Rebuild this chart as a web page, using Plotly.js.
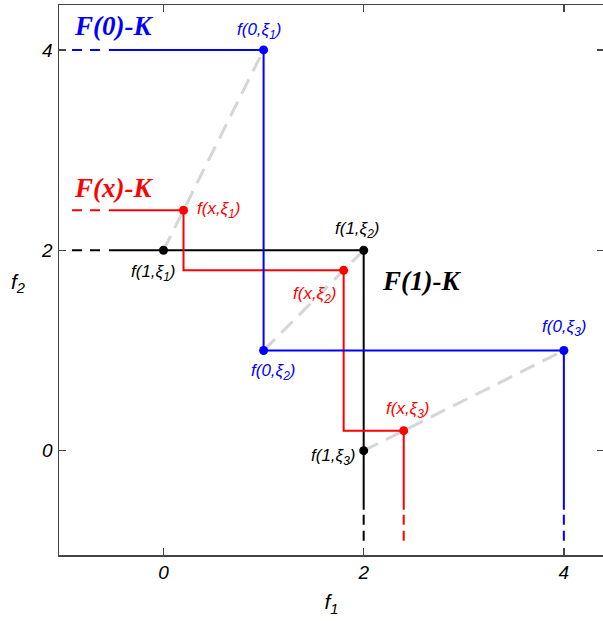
<!DOCTYPE html>
<html>
<head>
<meta charset="utf-8">
<script src="https://cdn.plot.ly/plotly-3.0.1.min.js"></script>
<style>html,body{margin:0;padding:0;overflow:hidden;background:#fff;}</style>
</head>
<body>
<div id="chart" style="width:606px;height:621px;"></div>
<script>
// Staircase data (solid parts)
const blueX = [-0.545, 1, 1, 4, 4];
const blueY = [4, 4, 1, 1, -0.59];
const redX = [-0.545, 0.2, 0.2, 1.8, 1.8, 2.4, 2.4];
const redY = [2.4, 2.4, 1.8, 1.8, 0.2, 0.2, -0.59];
const blackX = [-0.545, 0, 2, 2, 2];
const blackY = [2, 2, 2, 0, -0.59];
// dashed extensions
const dashLeftX = [-0.914, -0.614];
const dashBottomY = [-0.64, -0.91];
// points
const blueNames = ['f(0,ξ<sub>1</sub>)', 'f(0,ξ<sub>2</sub>)', 'f(0,ξ<sub>3</sub>)'];
const bluePtX = [1, 1, 4], bluePtY = [4, 1, 1];
const redNames = ['f(x,ξ<sub>1</sub>)', 'f(x,ξ<sub>2</sub>)', 'f(x,ξ<sub>3</sub>)'];
const redPtX = [0.2, 1.8, 2.4], redPtY = [2.4, 1.8, 0.2];
const blackNames = ['f(1,ξ<sub>1</sub>)', 'f(1,ξ<sub>2</sub>)', 'f(1,ξ<sub>3</sub>)'];
const blackPtX = [0, 2, 2], blackPtY = [2, 2, 0];
// gray connecting segments f(1,ξi) -> f(0,ξi)
const grayX = [0, 1, null, 1, 2, null, 2, 4];
const grayY = [2, 4, null, 1, 2, null, 0, 1];
// label positions
const blueLabX = [0.954, 1.094, 4.0], blueLabY = [4.19, 0.786, 1.225];
const redLabX = [0.315, 1.513, 2.442], redLabY = [2.40, 1.553, 0.406];
const blackLabX = [-0.105, 1.933, 1.933], blackLabY = [1.77, 2.20, -0.063];
const tickVals = [0, 2, 4];
const tickText = ['0', '2', '4'];

const BLUE = '#0000ff', RED = '#ff0000', BLACK = '#000000';
const SANS = 'Liberation Sans, Arial, Helvetica, sans-serif';
const SERIF = 'Liberation Serif, Times New Roman, serif';
const traces = [];
traces.push({x: grayX, y: grayY, mode: 'lines', line: {color: '#d6d6d6', width: 3, dash: '16px,9px'}, hoverinfo: 'skip'});
function stair(xs, ys, col, px, py, bottomX, leftY) {
  traces.push({x: xs, y: ys, mode: 'lines', line: {color: col, width: 2}, hoverinfo: 'skip'});
  traces.push({x: dashLeftX, y: [leftY, leftY], mode: 'lines', line: {color: col, width: 2, dash: '10px,8px'}, hoverinfo: 'skip'});
  traces.push({x: [bottomX, bottomX], y: dashBottomY, mode: 'lines', line: {color: col, width: 2, dash: '10px,6px'}, hoverinfo: 'skip'});
  traces.push({x: px, y: py, mode: 'markers', marker: {color: col, size: 9}, hoverinfo: 'skip'});
}
stair(blackX, blackY, BLACK, blackPtX, blackPtY, blackX[blackX.length-1], blackY[0]);
stair(redX, redY, RED, redPtX, redPtY, redX[redX.length-1], redY[0]);
stair(blueX, blueY, BLUE, bluePtX, bluePtY, blueX[blueX.length-1], blueY[0]);

const ann = [];
const small = (col) => ({family: SANS, size: 17, color: col, style: 'italic'});
const big = (col) => ({family: SERIF, size: 27, color: col, style: 'italic', weight: 'bold'});
function addLabels(names, xs, ys, col, anchors) {
  names.forEach((n, i) => ann.push({x: xs[i], y: ys[i], text: n, showarrow: false, font: small(col), xanchor: anchors[i], yanchor: 'middle'}));
}
addLabels(blueNames, blueLabX, blueLabY, BLUE, ['center', 'center', 'center']);
addLabels(redNames, redLabX, redLabY, RED, ['left', 'center', 'center']);
addLabels(blackNames, blackLabX, blackLabY, BLACK, ['center', 'center', 'right']);
ann.push({x: -0.914, y: 4.24, text: 'F(0)-K', showarrow: false, font: big(BLUE), xanchor: 'left', yanchor: 'middle'});
ann.push({x: -0.914, y: 2.62, text: 'F(x)-K', showarrow: false, font: big(RED), xanchor: 'left', yanchor: 'middle'});
ann.push({x: 2.163, y: 1.695, text: 'F(1)-K', showarrow: false, font: big(BLACK), xanchor: 'left', yanchor: 'middle'});
// y axis title (horizontal)
ann.push({xref: 'paper', yref: 'y', x: -0.075, y: 1.67, text: 'f<sub>2</sub>', showarrow: false, xanchor: 'center', yanchor: 'middle',
  font: {family: SANS, size: 21, color: '#000', style: 'italic'}});

const axisCommon = {
  showgrid: false, zeroline: false, ticks: 'inside', ticklen: 7, tickwidth: 1.5, tickcolor: '#444',
  showline: true, linecolor: '#444', linewidth: 1.5, mirror: 'ticks',
  tickvals: tickVals, ticktext: tickText,
  tickfont: {family: SANS, size: 19, color: '#000', style: 'italic'}
};
const layout = {
  width: 606, height: 621,
  margin: {l: 59, r: 2, t: 5, b: 66},
  showlegend: false,
  paper_bgcolor: '#fff', plot_bgcolor: '#fff',
  xaxis: Object.assign({}, axisCommon, {range: [-1.044, 4.401],
    title: {text: 'f<sub>1</sub>', standoff: 12, font: {family: SANS, size: 21, color: '#000', style: 'italic'}}}),
  yaxis: Object.assign({}, axisCommon, {range: [-1.041, 4.448], ticklabelstandoff: 1}),
  annotations: ann
};
Plotly.newPlot('chart', traces, layout, {displayModeBar: false, staticPlot: true});
</script>
</body>
</html>
